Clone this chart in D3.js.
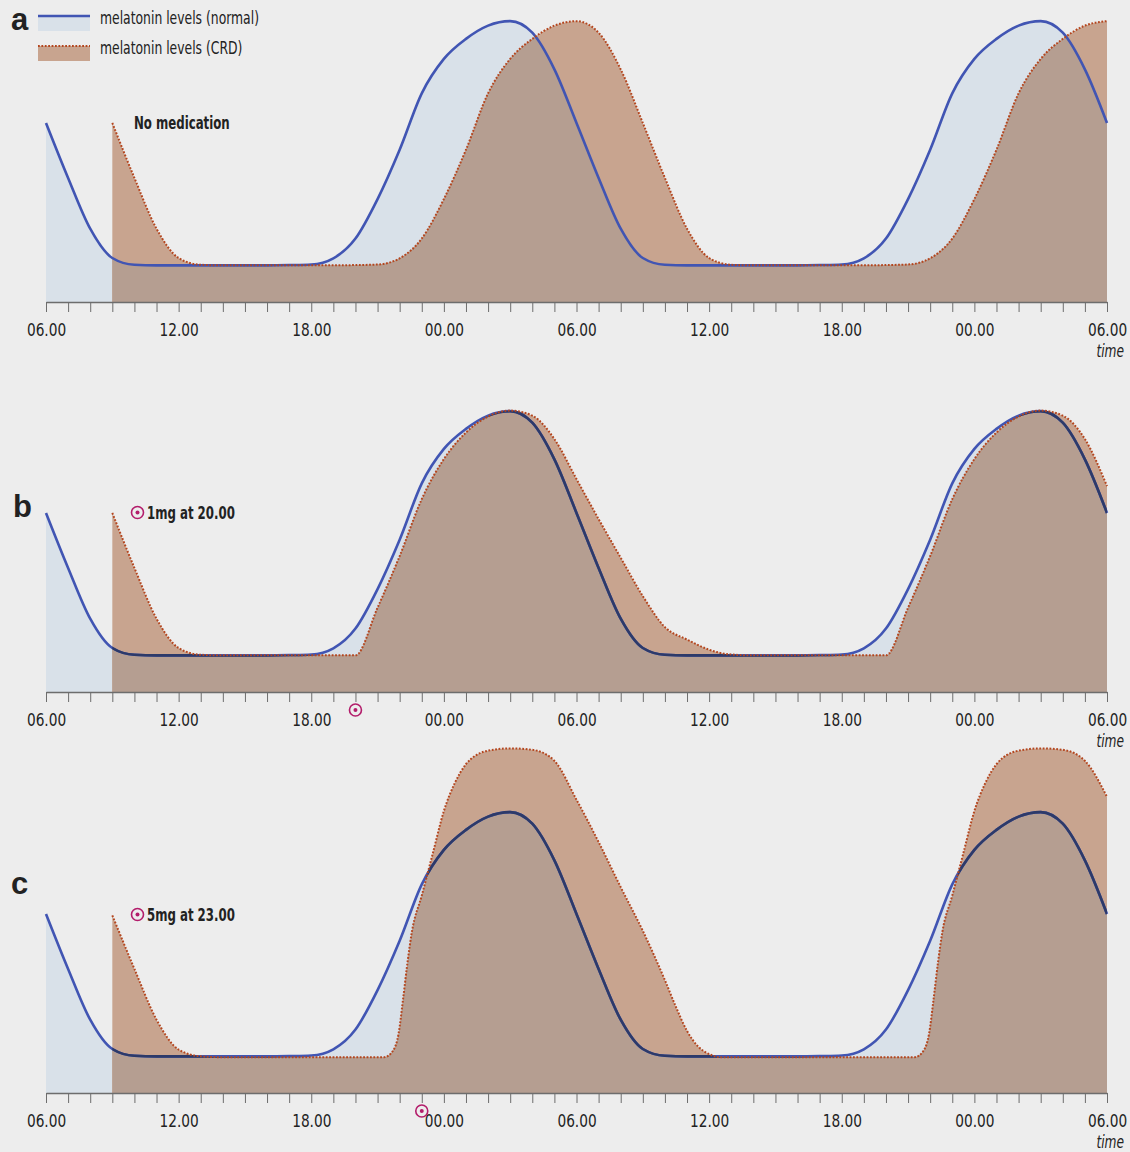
<!DOCTYPE html>
<html>
<head>
<meta charset="utf-8">
<script src="https://cdn.jsdelivr.net/npm/d3@7"></script>
<style>
body { margin: 0; background: #ededed; }
svg { display: block; }
text { font-family: "Liberation Sans Narrow", "Arial Narrow", "DejaVu Sans Condensed", sans-serif; fill: #222; }
</style>
</head>
<body>
<div id="chart"></div>
<script>
var width = 1130;
var height = 1152;

// tick labels, one every 6 hours starting at 06.00
var tickLabels = ["06.00", "12.00", "18.00", "00.00", "06.00", "12.00", "18.00", "00.00", "06.00"];

// normal melatonin level, one value per hour (hour 0 = 06.00)
var normalLevels = [63.5, 44, 26, 15.6, 13.2, 13, 13, 13, 13, 13, 13, 13.1, 13.3, 15.5, 22.5, 36.5, 54, 74, 86.2, 93.3, 98, 99.6, 95.5, 82.5,
                    63.5, 44, 26, 15.6, 13.2, 13, 13, 13, 13, 13, 13, 13.1, 13.3, 15.5, 22.5, 36.5, 54, 74, 86.2, 93.3, 98, 99.6, 95.5, 82.5,
                    63.5];

// CRD melatonin level [hour, level], no medication
var crdNoMedication = [[3, 63.5], [4, 44], [5, 26], [6, 15.6], [7, 13.2], [8, 13], [9, 13], [10, 13], [11, 13], [12, 13], [13, 13],
  [14, 13.1], [15, 13.3], [16, 15.5], [17, 22.5], [18, 36.5], [19, 54], [20, 74], [21, 86.2], [22, 93.3], [23, 98], [24, 99.6],
  [25, 95.5], [26, 82.5], [27, 63.5], [28, 44], [29, 26], [30, 15.6], [31, 13.2], [32, 13], [33, 13], [34, 13], [35, 13], [36, 13],
  [37, 13], [38, 13.1], [39, 13.3], [40, 15.5], [41, 22.5], [42, 36.5], [43, 54], [44, 74], [45, 86.2], [46, 93.3], [47, 98], [48, 99.6]];

// CRD with 1mg at 20.00
var crd1mg = [[3, 63.5], [4, 44], [5, 26], [6, 15.6], [7, 13.2], [8, 13], [9, 13], [10, 13], [11, 13], [12, 13], [13, 13], [14, 13],
  [15, 29.9], [16, 48.2], [17, 68.4], [18, 82.6], [19, 92], [20, 97.7], [21, 99.8], [22, 98], [23, 89.7], [24, 75.5], [25, 61.3],
  [26, 47.6], [27, 34], [28, 23], [29, 18.6], [30, 15], [31, 13.3], [32, 13], [33, 13], [34, 13], [35, 13], [36, 13], [37, 13], [38, 13],
  [39, 29.9], [40, 48.2], [41, 68.4], [42, 82.6], [43, 92], [44, 97.7], [45, 99.8], [46, 98], [47, 89.7], [48, 73]];

// CRD with 5mg at 23.00
var crd5mg = [[3, 63], [4, 44], [5, 26], [6, 15.4], [7, 13], [8, 12.7], [9, 12.7], [10, 12.7], [11, 12.7], [12, 12.7], [13, 12.7],
  [14, 12.7], [15, 12.7], [15.3, 12.7], [15.7, 15], [15.95, 21], [16.15, 33], [16.35, 46], [16.55, 57], [17, 70], [17.5, 85], [18, 100],
  [18.5, 110], [19, 116.6], [19.5, 120], [20, 121.4], [21, 122.2], [22, 121.7], [23, 117.8], [24, 104], [25, 89], [26, 73],
  [27, 57.5], [27.5, 49], [28, 40], [28.5, 30.5], [29, 22], [29.5, 16.5], [30, 13.8], [30.5, 12.7], [31, 12.7], [32, 12.7], [33, 12.7],
  [34, 12.7], [35, 12.7], [36, 12.7], [37, 12.7], [38, 12.7], [39, 12.7], [39.3, 12.7], [39.7, 15], [39.95, 21], [40.15, 33], [40.35, 46],
  [40.55, 57], [41, 70], [41.5, 85], [42, 100], [42.5, 110], [43, 116.6], [43.5, 120], [44, 121.4], [45, 122.2], [46, 121.7],
  [47, 117.8], [48, 105]];

var panelNames = ["a", "b", "c"];
var panelNotes = ["No medication", "1mg at 20.00", "5mg at 23.00"];
var doseHours = [null, 14, 17];
var legendLabels = ["melatonin levels (normal)", "melatonin levels (CRD)"];

var colNormalFill = "#d9e1e9",
    colCrdFill = "#c8a48f",
    colOverlap = "#b59e91",
    colNormalLine = "#4155b3",
    colNormalDark = "#2d3a69",
    colCrdLine = "#b4461f",
    colDose = "#b31d6b";

var svg = d3.select("#chart")
  .append("svg")
  .attr("width", width)
  .attr("height", height);

// narrow text: the original uses a condensed face, squeeze horizontally
function narrowText(parent, tx, ty, sx, str) {
  return parent.append("text")
    .attr("transform", "translate(" + tx + "," + ty + ") scale(" + sx + ",1)")
    .text(str);
}

var x = d3.scaleLinear().domain([0, 48]).range([46, 1107]);

var normalData = normalLevels.map(function(v, i) { return [i, v]; });
var crdSeries = [crdNoMedication, crd1mg, crd5mg];
var axisYs = [302, 692, 1093];

var defs = svg.append("defs");

panelNames.forEach(function(name, p) {
  var axisY = axisYs[p];
  var y = d3.scaleLinear().domain([0, 100]).range([axisY, axisY - 282]);

  var area = d3.area()
    .curve(d3.curveMonotoneX)
    .x(function(d) { return x(d[0]); })
    .y0(axisY)
    .y1(function(d) { return y(d[1]); });
  var line = d3.line()
    .curve(d3.curveMonotoneX)
    .x(function(d) { return x(d[0]); })
    .y(function(d) { return y(d[1]); });

  var crd = crdSeries[p];
  var g = svg.append("g").attr("class", "panel-" + name);

  defs.append("clipPath").attr("id", "crd-clip-" + name)
    .append("path").attr("d", area(crd));

  // normal area
  g.append("path").attr("d", area(normalData)).attr("fill", colNormalFill);
  // crd area
  g.append("path").attr("d", area(crd)).attr("fill", colCrdFill);
  // overlap
  g.append("path").attr("d", area(normalData)).attr("fill", colOverlap)
    .attr("clip-path", "url(#crd-clip-" + name + ")");

  // normal line
  g.append("path").attr("d", line(normalData))
    .attr("fill", "none").attr("stroke", colNormalLine).attr("stroke-width", 2.6);
  if (p > 0) {
    g.append("path").attr("d", line(normalData))
      .attr("fill", "none").attr("stroke", colNormalDark).attr("stroke-width", 2.6)
      .attr("clip-path", "url(#crd-clip-" + name + ")");
  }

  // crd dotted line
  g.append("path").attr("d", line(crd))
    .attr("fill", "none").attr("stroke", colCrdLine).attr("stroke-width", 2)
    .attr("stroke-dasharray", "1.8,1.6");

  // axis
  var axis = d3.axisBottom(x)
    .tickValues(d3.range(0, 49))
    .tickSize(10)
    .tickSizeOuter(0)
    .tickPadding(12)
    .tickFormat(function(h) { return h % 6 === 0 ? tickLabels[h / 6] : ""; });

  var ax = g.append("g")
    .attr("transform", "translate(0," + axisY + ")")
    .call(axis);
  ax.select(".domain").attr("stroke", "#6d6d6d").attr("stroke-width", 1.4);
  ax.selectAll(".tick line").attr("stroke", "#6d6d6d");
  ax.selectAll(".tick text")
    .style("font-family", '"Liberation Sans Narrow", "Arial Narrow", "DejaVu Sans Condensed", sans-serif')
    .attr("font-size", 17.5).attr("fill", "#222")
    .attr("transform", "scale(0.87,1)");

  narrowText(g, 1124, axisY + 55, 0.8, "time")
    .attr("text-anchor", "end")
    .attr("font-style", "italic")
    .attr("font-size", 17);

  // panel letter
  g.append("text")
    .attr("x", p === 1 ? 13 : 11)
    .attr("y", [30, 517, 894][p])
    .style("font-family", '"Liberation Sans", Arial, sans-serif')
    .attr("font-weight", "bold")
    .attr("font-size", 31)
    .attr("fill", "#111")
    .text(name);

  // note
  var noteY = [129, 519, 921][p];
  if (doseHours[p] !== null) {
    var dose = g.append("g").attr("transform", "translate(137.5," + (noteY - 6.5) + ")");
    dose.append("circle").attr("r", 6).attr("fill", "none").attr("stroke", colDose).attr("stroke-width", 1.6);
    dose.append("circle").attr("r", 2).attr("fill", colDose);

    var mark = g.append("g").attr("transform", "translate(" + x(doseHours[p]) + "," + (axisY + 18) + ")");
    mark.append("circle").attr("r", 6).attr("fill", "none").attr("stroke", colDose).attr("stroke-width", 1.6);
    mark.append("circle").attr("r", 2).attr("fill", colDose);
  }
  narrowText(g, doseHours[p] === null ? 134 : 147, noteY, 0.77, panelNotes[p])
    .attr("font-weight", "bold")
    .attr("font-size", 17)
    .attr("fill", "#111");
});

// legend
var legend = svg.append("g").attr("class", "legend");
legend.append("rect").attr("x", 38).attr("y", 16).attr("width", 52).attr("height", 15).attr("fill", colNormalFill);
legend.append("line").attr("x1", 38).attr("x2", 90).attr("y1", 16).attr("y2", 16)
  .attr("stroke", colNormalLine).attr("stroke-width", 2.6);
legend.append("rect").attr("x", 38).attr("y", 46).attr("width", 52).attr("height", 15).attr("fill", colCrdFill);
legend.append("line").attr("x1", 38).attr("x2", 90).attr("y1", 46).attr("y2", 46)
  .attr("stroke", colCrdLine).attr("stroke-width", 2).attr("stroke-dasharray", "1.8,1.6");
legendLabels.forEach(function(d, i) {
  narrowText(legend, 100, 24 + i * 30, 0.81, d)
    .attr("font-size", 17)
    .attr("fill", "#333");
});
</script>
</body>
</html>
